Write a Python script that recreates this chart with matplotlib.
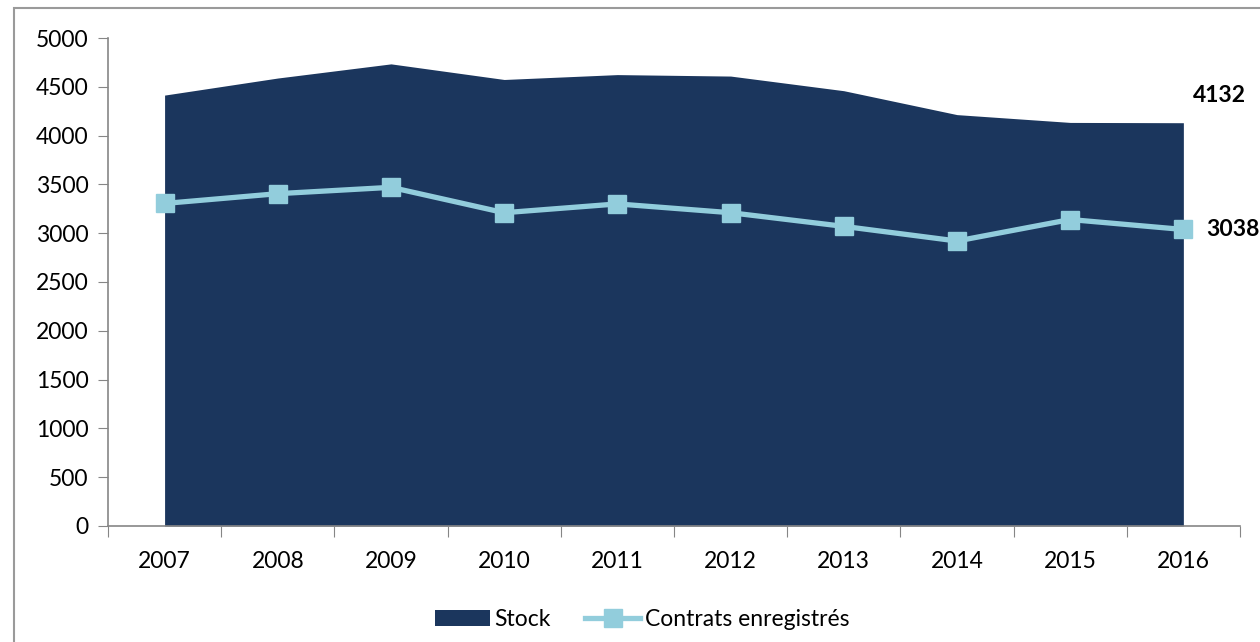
import matplotlib.pyplot as plt
from matplotlib.patches import Rectangle

years = ["2007", "2008", "2009", "2010", "2011", "2012", "2013", "2014", "2015", "2016"]
stock = [4415, 4590, 4735, 4575, 4625, 4610, 4460, 4215, 4135, 4132]
contrats = [3305, 3405, 3470, 3210, 3300, 3210, 3070, 2920, 3140, 3038]

plt.rcParams['font.family'] = ['Lato', 'DejaVu Sans']
fs = 16.5

fig = plt.figure(figsize=(12.6, 6.42), dpi=100)
ax = fig.add_axes([0.0857, 0.1807, 0.8984, 0.7601])

# outer chart frame
fig.patches.append(Rectangle((0.011, -0.05), 1.05, 1.037, transform=fig.transFigure,
                             fill=False, edgecolor='#9a9a9a', linewidth=1.5))

x = list(range(len(years)))
ax.fill_between(x, stock, 0, color='#1B365D', linewidth=0, label='Stock')
ax.plot(x, contrats, color='#92CDDC', linewidth=3.8, marker='s', markersize=13,
        label='Contrats enregistrés')

ax.text(x[-1] + 0.08, stock[-1] + 275, f"{stock[-1]}", fontsize=fs, fontweight='bold',
        va='center', ha='left', clip_on=False)
ax.text(x[-1] + 0.2, contrats[-1], f"{contrats[-1]}", fontsize=fs, fontweight='bold',
        va='center', ha='left', clip_on=False)

ax.set_xlim(-0.5, len(years) - 0.5)
ax.set_ylim(0, 5000)
ax.set_yticks(range(0, 5001, 500))
ax.set_xticks([i + 0.5 for i in range(-1, len(years))], minor=False)
ax.set_xticklabels([])
ax.set_xticks(x, minor=True)
ax.set_xticklabels(years, minor=True)
ax.tick_params(axis='x', which='minor', length=0, pad=18, labelsize=fs)
ax.tick_params(axis='x', which='major', length=8, direction='out', color='#868686')
ax.tick_params(axis='y', length=7, direction='out', color='#868686', labelsize=fs, pad=7)

for side in ['top', 'right']:
    ax.spines[side].set_visible(False)
for side in ['left', 'bottom']:
    ax.spines[side].set_color('#868686')
    ax.spines[side].set_linewidth(1.2)

ax.legend(loc='upper center', bbox_to_anchor=(0.472, -0.128), ncol=2, frameon=False,
          fontsize=fs, handlelength=2.4, handletextpad=0.2, columnspacing=1.5)

fig.savefig('out.png', dpi=100)
